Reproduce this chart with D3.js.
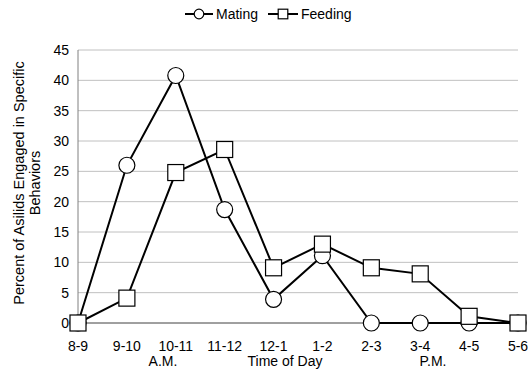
<!DOCTYPE html>
<html>
<head>
<meta charset="utf-8">
<script src="https://cdn.jsdelivr.net/npm/d3@7"></script>
<style>
  body { margin: 0; background: #fff; }
  text { font-family: "Liberation Sans", Arial, sans-serif; fill: #000; }
</style>
</head>
<body>
<div id="chart"></div>
<script>
// data
var times = ['8-9', '9-10', '10-11', '11-12', '12-1', '1-2', '2-3', '3-4', '4-5', '5-6'];
var mating = [0, 26, 40.8, 18.7, 3.9, 11.1, 0, 0, 0, 0];
var feeding = [0, 4.1, 24.8, 28.6, 9.1, 13, 9.1, 8.1, 1.1, 0];
var yTicks = [0, 5, 10, 15, 20, 25, 30, 35, 40, 45];

var width = 528, height = 371;
var margin = {left: 78, right: 10, top: 50, bottom: 48};

var svg = d3.select('#chart').append('svg')
    .attr('width', width)
    .attr('height', height);

var x = d3.scalePoint()
    .domain(times)
    .range([margin.left, width - margin.right]);

var y = d3.scaleLinear()
    .domain([0, 45])
    .range([height - margin.bottom, margin.top]);

// gridlines
svg.append('g')
    .selectAll('line')
    .data(yTicks.slice(1))
    .enter()
    .append('line')
    .attr('x1', margin.left)
    .attr('x2', width - margin.right)
    .attr('y1', function(d) { return y(d); })
    .attr('y2', function(d) { return y(d); })
    .style('stroke', '#c0c0c0')
    .style('stroke-width', 1);

// axes lines
svg.append('line')
    .attr('x1', margin.left).attr('x2', margin.left)
    .attr('y1', y(45)).attr('y2', y(0))
    .style('stroke', '#808080');
svg.append('line')
    .attr('x1', margin.left).attr('x2', width - margin.right)
    .attr('y1', y(0)).attr('y2', y(0))
    .style('stroke', '#404040');

// y tick labels
svg.append('g')
    .selectAll('text')
    .data(yTicks)
    .enter()
    .append('text')
    .attr('x', margin.left - 9)
    .attr('y', function(d) { return y(d); })
    .attr('dy', '0.35em')
    .style('text-anchor', 'end')
    .style('font-size', '14px')
    .text(function(d) { return d; });

// x tick labels
svg.append('g')
    .selectAll('text')
    .data(times)
    .enter()
    .append('text')
    .attr('x', function(d) { return x(d); })
    .attr('y', y(0) + 28)
    .style('text-anchor', 'middle')
    .style('font-size', '14px')
    .text(function(d) { return d; });

// second row under x axis
var bottomLabels = [
    {t: 'A.M.', x: 163},
    {t: 'Time of Day', x: 285},
    {t: 'P.M.', x: 433}
];
svg.append('g')
    .selectAll('text')
    .data(bottomLabels)
    .enter()
    .append('text')
    .attr('x', function(d) { return d.x; })
    .attr('y', y(0) + 43)
    .style('text-anchor', 'middle')
    .style('font-size', '14px')
    .text(function(d) { return d.t; });

// y axis title
var ytitle = svg.append('text')
    .attr('transform', 'translate(24,183) rotate(-90)')
    .style('text-anchor', 'middle')
    .style('font-size', '14.5px');
ytitle.append('tspan').attr('x', 0).attr('dy', 0).text('Percent of Asilids Engaged in Specific');
ytitle.append('tspan').attr('x', 0).attr('dy', '1.1em').text('Behaviors');

var line = d3.line()
    .x(function(d, i) { return x(times[i]); })
    .y(function(d) { return y(d); });

var series = [
    {name: 'Mating', values: mating, shape: 'circle'},
    {name: 'Feeding', values: feeding, shape: 'square'}
];

function drawMarker(g, shape, cx, cy, r) {
    if (shape == 'circle') {
        g.append('circle')
            .attr('cx', cx).attr('cy', cy).attr('r', r)
            .style('fill', 'white').style('stroke', 'black').style('stroke-width', 1.2);
    } else {
        g.append('rect')
            .attr('x', cx - r).attr('y', cy - r)
            .attr('width', 2 * r).attr('height', 2 * r)
            .style('fill', 'white').style('stroke', 'black').style('stroke-width', 1.2);
    }
}

series.forEach(function(s) {
    var g = svg.append('g');
    g.append('path')
        .datum(s.values)
        .attr('d', line)
        .style('fill', 'none')
        .style('stroke', 'black')
        .style('stroke-width', 2);
    s.values.forEach(function(v, i) {
        drawMarker(g, s.shape, x(times[i]), y(v), 8);
    });
});

// legend
var legendItems = [
    {name: 'Mating', shape: 'circle', x: 185, w: 28},
    {name: 'Feeding', shape: 'square', x: 268, w: 30}
];
legendItems.forEach(function(d) {
    var g = svg.append('g');
    g.append('line')
        .attr('x1', d.x).attr('x2', d.x + d.w)
        .attr('y1', 14).attr('y2', 14)
        .style('stroke', 'black').style('stroke-width', 2);
    drawMarker(g, d.shape, d.x + d.w / 2, 14, 4.8);
    g.append('text')
        .attr('x', d.x + d.w + 3)
        .attr('y', 14)
        .attr('dy', '0.35em')
        .style('font-size', '14px')
        .text(d.name);
});
</script>
</body>
</html>
